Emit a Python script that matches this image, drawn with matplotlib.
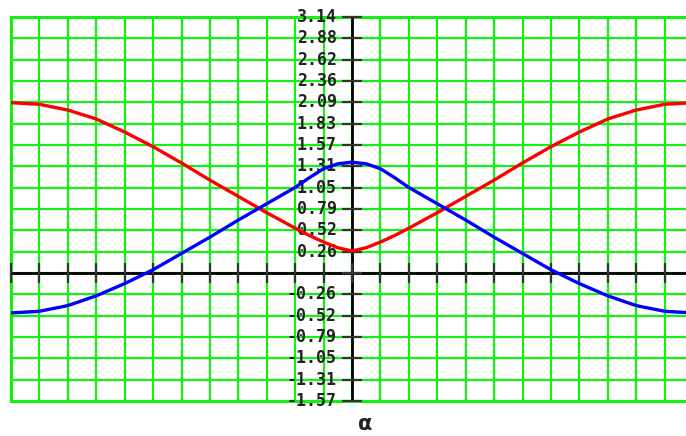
import numpy as np
import matplotlib.pyplot as plt

# angle positions in units of pi/12 along the alpha axis
alpha_steps = [-12, -11, -10, -9, -8, -7, -6, -5, -4, -3, -2, -1.5, -1, -0.5, 0,
               0.5, 1, 1.5, 2, 3, 4, 5, 6, 7, 8, 9, 10, 11, 12]

# red curve
red_vals = [2.09, 2.07, 2.00, 1.89, 1.73, 1.55, 1.35, 1.14, 0.94, 0.74, 0.55, 0.46, 0.38, 0.31, 0.27,
            0.31, 0.38, 0.46, 0.55, 0.74, 0.94, 1.14, 1.35, 1.55, 1.73, 1.89, 2.00, 2.07, 2.09]

# blue curve
blue_vals = [-0.49, -0.47, -0.40, -0.28, -0.13, 0.04, 0.24, 0.44, 0.65, 0.85, 1.05, 1.17, 1.28, 1.34, 1.36,
             1.34, 1.28, 1.17, 1.05, 0.85, 0.65, 0.44, 0.24, 0.04, -0.13, -0.28, -0.40, -0.47, -0.49]

y_steps = [12, 11, 10, 9, 8, 7, 6, 5, 4, 3, 2, 1, -1, -2, -3, -4, -5, -6]
y_labels = ["3.14", "2.88", "2.62", "2.36", "2.09", "1.83", "1.57", "1.31", "1.05",
            "0.79", "0.52", "0.26", "-0.26", "-0.52", "-0.79", "-1.05", "-1.31", "-1.57"]

step = np.pi / 12
x = np.array(alpha_steps) * step

fig = plt.figure(figsize=(6.86, 4.36), dpi=100)
ax = fig.add_axes([11 / 686, 35 / 436, 682 / 686, 384 / 436])
ax.set_xlim(-np.pi, np.pi)
ax.set_ylim(-np.pi / 2, np.pi)

green = "#14f014"
ax.set_xticks(np.arange(-12, 13) * step)
ax.set_yticks(np.arange(-6, 13) * step)
ax.tick_params(length=0, labelbottom=False, labelleft=False)
ax.grid(True, color=green, linewidth=1.6)
for s in ax.spines.values():
    s.set_color(green)
    s.set_linewidth(2.2)

# axes through the origin
ax.axhline(0, color="black", linewidth=2, zorder=3)
ax.axvline(0, color="black", linewidth=2, zorder=3)
ax.plot(np.arange(-12, 13) * step, np.zeros(25), ls="none", marker="|",
        ms=14, mew=1.6, color="#333333", zorder=3, clip_on=False)
ax.plot(np.zeros(len(y_steps) + 1), np.array(y_steps + [0]) * step, ls="none",
        marker="_", ms=14, mew=1.6, color="#333333", zorder=3, clip_on=False)

for k, lab in zip(y_steps, y_labels):
    ax.annotate(lab, (0, k * step), xytext=(-11, 0), textcoords="offset points",
                ha="right", va="center", fontsize=12, fontweight="bold",
                family="DejaVu Sans Mono", color="#222222", zorder=4)

ax.plot(x, red_vals, color="red", linewidth=2.4, zorder=5, solid_joinstyle="round")
ax.plot(x, blue_vals, color="blue", linewidth=2.4, zorder=5, solid_joinstyle="round")

fig.text(365 / 686, 1 - 424 / 436, "α", ha="center", va="center",
         fontsize=15, fontweight="bold", color="#222222")

fig.savefig("out.png", dpi=100)
